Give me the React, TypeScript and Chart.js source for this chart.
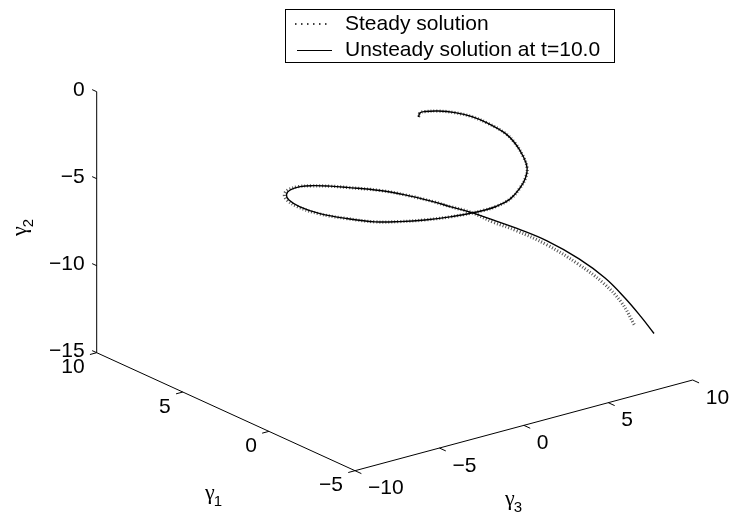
import { useEffect, useRef } from 'react';
import { Chart, registerables } from 'chart.js';

Chart.register(...registerables);

// Axis limits and ticks
const gamma1Range = [-5, 10];
const gamma3Range = [-10, 10];
const gamma2Range = [-15, 0];
const gamma1Ticks = [10, 5, 0, -5];
const gamma3Ticks = [-10, -5, 0, 5, 10];
const gamma2Ticks = [0, -5, -10, -15];

const seriesLabels = ['Steady solution', 'Unsteady solution at t=10.0'];

// Unsteady solution at t = 10.0
const unsteadyGamma1 = [3.0, 2.9, 2.8, 2.6, 2.4, 2.2, 2.0, 1.8, 1.6, 1.4, 1.3, 1.2, 1.1, 1.0, 1.0, 1.0, 1.0, 1.1, 1.2, 1.3, 1.4, 1.5, 1.6, 1.6, 1.6, 1.5, 1.4, 1.3, 1.2, 1.0, 0.8, 0.5, 0.2, -0.1, -0.3, -0.6, -1.0, -1.5, -2.0, -2.5, -3.0, -3.4, -3.7, -4.0];
const unsteadyGamma3 = [1.92, 1.91, 2.10, 2.67, 3.47, 4.27, 5.02, 5.82, 6.21, 6.50, 6.62, 6.42, 5.99, 5.30, 4.47, 3.70, 3.03, 1.85, 0.47, -0.91, -2.29, -3.85, -5.34, -6.53, -7.18, -7.43, -7.32, -6.83, -6.17, -5.36, -4.56, -2.91, -1.74, -0.38, 0.42, 1.40, 2.25, 3.16, 4.43, 5.82, 6.85, 7.62, 8.27, 8.73];
const unsteadyGamma2 = [-1.39, -1.11, -1.04, -1.07, -1.28, -1.63, -2.12, -2.80, -3.39, -4.15, -4.78, -5.26, -5.68, -6.09, -6.30, -6.33, -6.30, -6.26, -6.12, -5.90, -5.60, -5.05, -4.42, -3.72, -3.16, -2.74, -2.46, -2.35, -2.42, -2.57, -2.76, -3.23, -3.65, -4.26, -4.66, -5.13, -5.59, -6.09, -6.91, -8.08, -9.22, -10.39, -11.51, -12.45];

// Steady solution
const steadyGamma1 = [3.0, 2.9, 2.8, 2.6, 2.4, 2.2, 2.0, 1.8, 1.6, 1.4, 1.3, 1.2, 1.1, 1.0, 1.0, 1.0, 1.0, 1.1, 1.2, 1.3, 1.4, 1.5, 1.6, 1.6, 1.6, 1.5, 1.4, 1.3, 1.2, 1.0, 0.8, 0.5, 0.2, -0.1, -0.3, -0.6, -1.0, -1.5, -2.0, -2.5, -3.0, -3.4, -3.7];
const steadyGamma3 = [1.92, 1.91, 2.10, 2.67, 3.47, 4.27, 5.02, 5.82, 6.21, 6.50, 6.62, 6.42, 5.99, 5.30, 4.47, 3.70, 3.03, 1.85, 0.47, -0.91, -2.29, -3.85, -5.40, -6.65, -7.30, -7.55, -7.44, -6.95, -6.23, -5.36, -4.56, -2.91, -1.74, -0.38, 0.42, 1.40, 2.25, 3.16, 4.43, 5.76, 6.73, 7.39, 7.91];
const steadyGamma2 = [-1.39, -1.11, -1.04, -1.07, -1.28, -1.63, -2.12, -2.80, -3.39, -4.15, -4.78, -5.26, -5.68, -6.09, -6.30, -6.33, -6.30, -6.26, -6.12, -5.90, -5.60, -5.05, -4.42, -3.69, -3.13, -2.71, -2.43, -2.32, -2.42, -2.57, -2.76, -3.23, -3.65, -4.26, -4.66, -5.13, -5.71, -6.23, -7.14, -8.36, -9.47, -10.56, -11.94];

// View geometry: screen position of the box corner (gamma1 min, gamma3 min, gamma2 min)
// and the screen vectors spanned by each full axis range.
const W = 730;
const H = 518;
const CORNER = [355, 470.7];
const SPAN1 = [-258.3, -118.0];
const SPAN3 = [337.7, -90.7];
const SPAN2 = [0, -261.0];

const FONT = '"Liberation Sans", Arial, Helvetica, sans-serif';
const GREEK_FONT = '"Liberation Serif", "DejaVu Serif", serif';

function project(g1: number, g3: number, g2: number) {
  const a = (g1 - gamma1Range[0]) / (gamma1Range[1] - gamma1Range[0]);
  const b = (g3 - gamma3Range[0]) / (gamma3Range[1] - gamma3Range[0]);
  const c = (g2 - gamma2Range[0]) / (gamma2Range[1] - gamma2Range[0]);
  return {
    x: CORNER[0] + a * SPAN1[0] + b * SPAN3[0] + c * SPAN2[0],
    y: CORNER[1] + a * SPAN1[1] + b * SPAN3[1] + c * SPAN2[1],
  };
}

function curve(g1: number[], g3: number[], g2: number[]) {
  return g1.map((v, i) => project(v, g3[i], g2[i]));
}

function fmt(n: number) {
  return n < 0 ? '\u2212' + Math.abs(n) : String(n);
}

const axesPlugin = {
  id: 'axes3d',
  beforeDatasetsDraw(chart: any) {
    const ctx = chart.ctx;
    const sx = chart.scales.x;
    const sy = chart.scales.y;
    const P = (g1: number, g3: number, g2: number) => {
      const p = project(g1, g3, g2);
      return { x: sx.getPixelForValue(p.x), y: sy.getPixelForValue(p.y) };
    };
    const unit = (a: any, b: any) => {
      const dx = b.x - a.x;
      const dy = b.y - a.y;
      const l = Math.hypot(dx, dy);
      return { x: dx / l, y: dy / l };
    };
    const [g1a, g1b] = gamma1Range;
    const [g3a, g3b] = gamma3Range;
    const [g2a, g2b] = gamma2Range;
    const d1 = unit(P(g1a, g3a, g2a), P(g1b, g3a, g2a));
    const d3 = unit(P(g1a, g3a, g2a), P(g1a, g3b, g2a));

    ctx.save();
    ctx.strokeStyle = '#000';
    ctx.lineWidth = 1;
    const line = (a: any, b: any) => {
      ctx.beginPath();
      ctx.moveTo(a.x, a.y);
      ctx.lineTo(b.x, b.y);
      ctx.stroke();
    };
    // axis lines
    line(P(g1a, g3a, g2a), P(g1b, g3a, g2a));
    line(P(g1a, g3a, g2a), P(g1a, g3b, g2a));
    line(P(g1b, g3a, g2a), P(g1b, g3a, g2b));

    ctx.fillStyle = '#000';
    ctx.font = `21px ${FONT}`;

    // gamma2 ticks (vertical axis)
    ctx.textAlign = 'right';
    ctx.textBaseline = 'middle';
    gamma2Ticks.forEach((v) => {
      const p = P(g1b, g3a, v);
      line(p, { x: p.x + d1.x * 5, y: p.y + d1.y * 5 });
      ctx.fillText(fmt(v), p.x - 12, p.y - 1);
    });

    // gamma1 ticks
    gamma1Ticks.forEach((v) => {
      const p = P(v, g3a, g2a);
      line(p, { x: p.x - d3.x * 7, y: p.y - d3.y * 7 });
      ctx.textAlign = 'right';
      ctx.fillText(fmt(v), p.x - 12, p.y + 15);
    });

    // gamma3 ticks
    gamma3Ticks.forEach((v) => {
      const p = P(g1a, v, g2a);
      line(p, { x: p.x - d1.x * 7, y: p.y - d1.y * 7 });
      ctx.textAlign = 'left';
      ctx.fillText(fmt(v), p.x + 13, p.y + 18);
    });

    // axis titles
    const gammaLabel = (x: number, y: number, sub: string) => {
      ctx.textAlign = 'left';
      ctx.textBaseline = 'middle';
      ctx.font = `22px ${GREEK_FONT}`;
      ctx.fillText('\u03b3', x, y);
      const w = ctx.measureText('\u03b3').width;
      ctx.font = `15px ${FONT}`;
      ctx.fillText(sub, x + w - 1, y + 9);
    };
    gammaLabel(205, 493, '1');
    gammaLabel(505, 499, '3');
    ctx.save();
    ctx.translate(20, 236);
    ctx.rotate(-Math.PI / 2);
    gammaLabel(0, 0, '2');
    ctx.restore();

    ctx.restore();
  },
  afterDraw(chart: any) {
    const ctx = chart.ctx;
    ctx.save();
    // legend box
    ctx.fillStyle = '#fff';
    ctx.fillRect(285.5, 9.5, 329, 53);
    ctx.strokeStyle = '#000';
    ctx.lineWidth = 1;
    ctx.strokeRect(285.5, 9.5, 329, 53);

    ctx.lineWidth = 1.5;
    ctx.setLineDash([1.5, 4.5]);
    ctx.beginPath();
    ctx.moveTo(295, 24);
    ctx.lineTo(331, 24);
    ctx.stroke();
    ctx.setLineDash([]);
    ctx.lineWidth = 1;
    ctx.beginPath();
    ctx.moveTo(297, 50.5);
    ctx.lineTo(332, 50.5);
    ctx.stroke();

    ctx.fillStyle = '#000';
    ctx.font = `21px ${FONT}`;
    ctx.textAlign = 'left';
    ctx.textBaseline = 'middle';
    ctx.fillText(seriesLabels[0], 345, 24);
    ctx.fillText(seriesLabels[1], 345, 50);
    ctx.restore();
  },
};

export default function App() {
  const ref = useRef<HTMLCanvasElement>(null);

  useEffect(() => {
    const chart = new Chart(ref.current as HTMLCanvasElement, {
      type: 'scatter',
      data: {
        datasets: [
          {
            label: seriesLabels[1],
            data: curve(unsteadyGamma1, unsteadyGamma3, unsteadyGamma2),
            showLine: true,
            borderColor: '#000',
            borderWidth: 1.4,
            pointRadius: 0,
            tension: 0.4,
            fill: false,
          },
          {
            label: seriesLabels[0],
            data: curve(steadyGamma1, steadyGamma3, steadyGamma2),
            showLine: true,
            borderColor: '#555',
            borderWidth: 3.2,
            borderDash: [1, 2],
            pointRadius: 0,
            tension: 0.4,
            fill: false,
          },
        ],
      },
      options: {
        responsive: false,
        animation: false,
        devicePixelRatio: 1,
        layout: { padding: 0 },
        scales: {
          x: { type: 'linear', min: 0, max: W, display: false },
          y: { type: 'linear', min: 0, max: H, reverse: true, display: false },
        },
        plugins: {
          legend: { display: false },
          tooltip: { enabled: false },
        },
      },
      plugins: [axesPlugin],
    });
    return () => chart.destroy();
  }, []);

  return (
    <div style={{ position: 'absolute', left: 0, top: 0, width: W, height: H, background: '#fff' }}>
      <canvas ref={ref} width={W} height={H} style={{ display: 'block' }} />
    </div>
  );
}
